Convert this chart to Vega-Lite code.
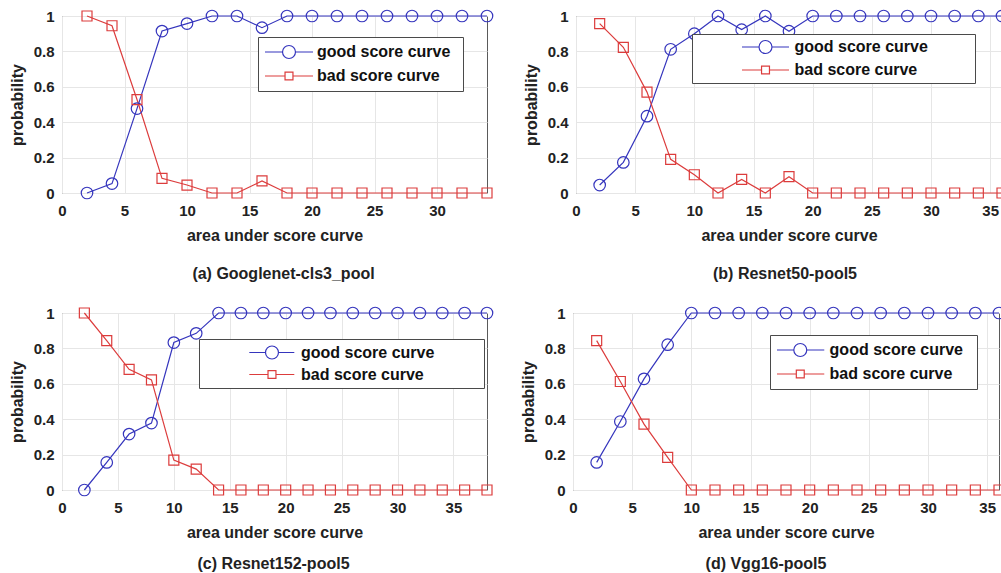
{
  "$schema": "https://vega.github.io/schema/vega-lite/v6.json",
  "padding": {"left": 8, "top": 7, "right": 0, "bottom": 0},
  "background": "white",
  "config": {
    "font": "Liberation Sans",
    "view": {"stroke": "#5a5a5a", "strokeWidth": 1},
    "axis": {
      "labelFont": "Liberation Sans", "labelFontSize": 15, "labelFontWeight": "bold", "labelColor": "#222",
      "titleFont": "Liberation Sans", "titleFontSize": 16, "titleFontWeight": "bold", "titleColor": "#222",
      "gridColor": "#e6e6e6", "domain": false, "ticks": false
    },
    "axisX": {"labelPadding": 10, "titlePadding": 9, "labelFlush": false},
    "axisY": {"labelPadding": 8, "titlePadding": 8},
    "legend": {
      "orient": "none", "labelFont": "Liberation Sans", "labelFontSize": 16, "labelFontWeight": "bold",
      "labelColor": "#111", "strokeColor": "#4a4a4a", "fillColor": "#ffffff",
      "symbolStrokeWidth": 1.2, "labelLimit": 400, "symbolSize": 576,
      "titleOrient": "right", "titleFontSize": 10, "titleColor": "transparent", "titleLimit": 50
    },
    "title": {"font": "Liberation Sans", "fontSize": 16, "fontWeight": "bold", "color": "#222", "orient": "bottom", "frame": "group"}
  },
  "datasets": {
    "a": [
      {"x": 2, "good": 0, "bad": 1}, {"x": 4, "good": 0.053, "bad": 0.945}, {"x": 6, "good": 0.477, "bad": 0.528},
      {"x": 8, "good": 0.915, "bad": 0.083}, {"x": 10, "good": 0.957, "bad": 0.045}, {"x": 12, "good": 1, "bad": 0},
      {"x": 14, "good": 1, "bad": 0}, {"x": 16, "good": 0.934, "bad": 0.068}, {"x": 18, "good": 1, "bad": 0},
      {"x": 20, "good": 1, "bad": 0}, {"x": 22, "good": 1, "bad": 0}, {"x": 24, "good": 1, "bad": 0},
      {"x": 26, "good": 1, "bad": 0}, {"x": 28, "good": 1, "bad": 0}, {"x": 30, "good": 1, "bad": 0},
      {"x": 32, "good": 1, "bad": 0}, {"x": 34, "good": 1, "bad": 0}
    ],
    "b": [
      {"x": 2, "good": 0.045, "bad": 0.957}, {"x": 4, "good": 0.173, "bad": 0.823}, {"x": 6, "good": 0.434, "bad": 0.57},
      {"x": 8, "good": 0.812, "bad": 0.19}, {"x": 10, "good": 0.9, "bad": 0.103}, {"x": 12, "good": 1, "bad": 0},
      {"x": 14, "good": 0.923, "bad": 0.077}, {"x": 16, "good": 1, "bad": 0}, {"x": 18, "good": 0.914, "bad": 0.092},
      {"x": 20, "good": 1, "bad": 0}, {"x": 22, "good": 1, "bad": 0}, {"x": 24, "good": 1, "bad": 0},
      {"x": 26, "good": 1, "bad": 0}, {"x": 28, "good": 1, "bad": 0}, {"x": 30, "good": 1, "bad": 0},
      {"x": 32, "good": 1, "bad": 0}, {"x": 34, "good": 1, "bad": 0}, {"x": 36, "good": 1, "bad": 0}
    ],
    "c": [
      {"x": 2, "good": 0, "bad": 1}, {"x": 4, "good": 0.156, "bad": 0.844}, {"x": 6, "good": 0.316, "bad": 0.682},
      {"x": 8, "good": 0.378, "bad": 0.622}, {"x": 10, "good": 0.833, "bad": 0.169}, {"x": 12, "good": 0.885, "bad": 0.118},
      {"x": 14, "good": 1, "bad": 0}, {"x": 16, "good": 1, "bad": 0}, {"x": 18, "good": 1, "bad": 0},
      {"x": 20, "good": 1, "bad": 0}, {"x": 22, "good": 1, "bad": 0}, {"x": 24, "good": 1, "bad": 0},
      {"x": 26, "good": 1, "bad": 0}, {"x": 28, "good": 1, "bad": 0}, {"x": 30, "good": 1, "bad": 0},
      {"x": 32, "good": 1, "bad": 0}, {"x": 34, "good": 1, "bad": 0}, {"x": 36, "good": 1, "bad": 0},
      {"x": 38, "good": 1, "bad": 0}
    ],
    "d": [
      {"x": 2, "good": 0.156, "bad": 0.844}, {"x": 4, "good": 0.387, "bad": 0.613}, {"x": 6, "good": 0.628, "bad": 0.372},
      {"x": 8, "good": 0.821, "bad": 0.184}, {"x": 10, "good": 1, "bad": 0}, {"x": 12, "good": 1, "bad": 0},
      {"x": 14, "good": 1, "bad": 0}, {"x": 16, "good": 1, "bad": 0}, {"x": 18, "good": 1, "bad": 0},
      {"x": 20, "good": 1, "bad": 0}, {"x": 22, "good": 1, "bad": 0}, {"x": 24, "good": 1, "bad": 0},
      {"x": 26, "good": 1, "bad": 0}, {"x": 28, "good": 1, "bad": 0}, {"x": 30, "good": 1, "bad": 0},
      {"x": 32, "good": 1, "bad": 0}, {"x": 34, "good": 1, "bad": 0}, {"x": 36, "good": 1, "bad": 0}
    ]
  },
  "resolve": {"scale": {"color": "independent"}, "legend": {"color": "independent"}},
  "spacing": 21,
  "vconcat": [
    {
      "spacing": 26,
      "resolve": {"scale": {"color": "independent"}, "legend": {"color": "independent"}},
      "hconcat": [
        {
          "width": 425, "height": 177,
          "data": {"name": "a"},
          "transform": [{"fold": ["good", "bad"], "as": ["s", "p"]}],
          "title": {"text": "(a) Googlenet-cls3_pool", "offset": 23, "dx": 9},
          "encoding": {
            "x": {"field": "x", "type": "quantitative", "scale": {"domain": [0, 34], "nice": false}, "axis": {"values": [0, 5, 10, 15, 20, 25, 30], "title": "area under score curve"}},
            "y": {"field": "p", "type": "quantitative", "scale": {"domain": [0, 1], "nice": false}, "axis": {"values": [0, 0.2, 0.4, 0.6, 0.8, 1], "format": ".1~f", "title": "probability"}},
            "color": {"field": "s", "type": "nominal", "scale": {"domain": ["good", "bad"], "range": ["#3535bd", "#dc3c3c"]},
              "legend": {"title": "\u00a0", "titlePadding": 10, "legendX": 196, "legendY": 21, "padding": 3, "rowPadding": 0, "clipHeight": 24, "labelOffset": 30, "labelExpr": "datum.value + ' score curve'",
                "encode": {"symbols": {"update": {"fill": {"value": "transparent"}, "opacity": {"value": 1},
                  "shape": {"signal": "datum.value === 'good' ? 'M-0.75,0H0.71M1.79,0H3.25M0.71,0A0.54,0.54 0 1,0 1.79,0A0.54,0.54 0 1,0 0.71,0' : 'M-0.75,0H0.92M1.58,0H3.25M0.92,-0.33H1.58V0.33H0.92Z'"}}}}}}
          },
          "layer": [
            {"mark": {"type": "line", "strokeWidth": 1.2}},
            {"transform": [{"filter": "datum.s === 'good'"}], "mark": {"type": "point", "shape": "circle", "size": 133, "filled": false, "strokeWidth": 1.2, "opacity": 1}},
            {"transform": [{"filter": "datum.s === 'bad'"}], "mark": {"type": "point", "shape": "square", "size": 100, "filled": false, "strokeWidth": 1.2, "opacity": 1}}
          ]
        },
        {
          "width": 426, "height": 177,
          "data": {"name": "b"},
          "transform": [{"fold": ["good", "bad"], "as": ["s", "p"]}],
          "title": {"text": "(b) Resnet50-pool5", "offset": 23, "dx": -4},
          "encoding": {
            "x": {"field": "x", "type": "quantitative", "scale": {"domain": [0, 36], "nice": false}, "axis": {"values": [0, 5, 10, 15, 20, 25, 30, 35], "title": "area under score curve"}},
            "y": {"field": "p", "type": "quantitative", "scale": {"domain": [0, 1], "nice": false}, "axis": {"values": [0, 0.2, 0.4, 0.6, 0.8, 1], "format": ".1~f", "title": "probability"}},
            "color": {"field": "s", "type": "nominal", "scale": {"domain": ["good", "bad"], "range": ["#3535bd", "#dc3c3c"]},
              "legend": {"title": "\u00a0", "titlePadding": 46, "legendX": 116, "legendY": 18, "padding": 1.5, "rowPadding": 0, "clipHeight": 23, "labelOffset": 75, "labelExpr": "datum.value + ' score curve'",
                "encode": {"symbols": {"update": {"fill": {"value": "transparent"}, "opacity": {"value": 1},
                  "shape": {"signal": "datum.value === 'good' ? 'M2.958,0H4.377M5.457,0H6.875M4.377,0A0.54,0.54 0 1,0 5.457,0A0.54,0.54 0 1,0 4.377,0' : 'M2.958,0H4.587M5.247,0H6.875M4.587,-0.33H5.247V0.33H4.587Z'"}}}}}}
          },
          "layer": [
            {"mark": {"type": "line", "strokeWidth": 1.2}},
            {"transform": [{"filter": "datum.s === 'good'"}], "mark": {"type": "point", "shape": "circle", "size": 133, "filled": false, "strokeWidth": 1.2, "opacity": 1}},
            {"transform": [{"filter": "datum.s === 'bad'"}], "mark": {"type": "point", "shape": "square", "size": 100, "filled": false, "strokeWidth": 1.2, "opacity": 1}}
          ]
        }
      ]
    },
    {
      "spacing": 23,
      "resolve": {"scale": {"color": "independent"}, "legend": {"color": "independent"}},
      "hconcat": [
        {
          "width": 425, "height": 177,
          "data": {"name": "c"},
          "transform": [{"fold": ["good", "bad"], "as": ["s", "p"]}],
          "title": {"text": "(c) Resnet152-pool5", "offset": 16, "dx": -1},
          "encoding": {
            "x": {"field": "x", "type": "quantitative", "scale": {"domain": [0, 38], "nice": false}, "axis": {"values": [0, 5, 10, 15, 20, 25, 30, 35], "title": "area under score curve"}},
            "y": {"field": "p", "type": "quantitative", "scale": {"domain": [0, 1], "nice": false}, "axis": {"values": [0, 0.2, 0.4, 0.6, 0.8, 1], "format": ".1~f", "title": "probability"}},
            "color": {"field": "s", "type": "nominal", "scale": {"domain": ["good", "bad"], "range": ["#3535bd", "#dc3c3c"]},
              "legend": {"title": "\u00a0", "titlePadding": 47, "legendX": 137, "legendY": 26, "padding": 2.5, "rowPadding": 0, "clipHeight": 22, "labelOffset": 73.5, "labelExpr": "datum.value + ' score curve'",
                "encode": {"symbols": {"update": {"fill": {"value": "transparent"}, "opacity": {"value": 1},
                  "shape": {"signal": "datum.value === 'good' ? 'M2.9,0H4.25M5.33,0H6.65M4.25,0A0.54,0.54 0 1,0 5.33,0A0.54,0.54 0 1,0 4.25,0' : 'M2.9,0H4.46M5.12,0H6.65M4.46,-0.33H5.12V0.33H4.46Z'"}}}}}}
          },
          "layer": [
            {"mark": {"type": "line", "strokeWidth": 1.2}},
            {"transform": [{"filter": "datum.s === 'good'"}], "mark": {"type": "point", "shape": "circle", "size": 133, "filled": false, "strokeWidth": 1.2, "opacity": 1}},
            {"transform": [{"filter": "datum.s === 'bad'"}], "mark": {"type": "point", "shape": "square", "size": 100, "filled": false, "strokeWidth": 1.2, "opacity": 1}}
          ]
        },
        {
          "width": 426, "height": 177,
          "data": {"name": "d"},
          "transform": [{"fold": ["good", "bad"], "as": ["s", "p"]}],
          "title": {"text": "(d) Vgg16-pool5", "offset": 16, "dx": -20},
          "encoding": {
            "x": {"field": "x", "type": "quantitative", "scale": {"domain": [0, 36], "nice": false}, "axis": {"values": [0, 5, 10, 15, 20, 25, 30, 35], "title": "area under score curve"}},
            "y": {"field": "p", "type": "quantitative", "scale": {"domain": [0, 1], "nice": false}, "axis": {"values": [0, 0.2, 0.4, 0.6, 0.8, 1], "format": ".1~f", "title": "probability"}},
            "color": {"field": "s", "type": "nominal", "scale": {"domain": ["good", "bad"], "range": ["#3535bd", "#dc3c3c"]},
              "legend": {"title": "\u00a0", "titlePadding": 11, "legendX": 197, "legendY": 22, "padding": 3, "rowPadding": 0, "clipHeight": 24, "labelOffset": 30.6, "labelExpr": "datum.value + ' score curve'",
                "encode": {"symbols": {"update": {"fill": {"value": "transparent"}, "opacity": {"value": 1},
                  "shape": {"signal": "datum.value === 'good' ? 'M-0.75,0H0.65M1.73,0H3.19M0.65,0A0.54,0.54 0 1,0 1.73,0A0.54,0.54 0 1,0 0.65,0' : 'M-0.75,0H0.86M1.52,0H3.19M0.86,-0.33H1.52V0.33H0.86Z'"}}}}}}
          },
          "layer": [
            {"mark": {"type": "line", "strokeWidth": 1.2}},
            {"transform": [{"filter": "datum.s === 'good'"}], "mark": {"type": "point", "shape": "circle", "size": 133, "filled": false, "strokeWidth": 1.2, "opacity": 1}},
            {"transform": [{"filter": "datum.s === 'bad'"}], "mark": {"type": "point", "shape": "square", "size": 100, "filled": false, "strokeWidth": 1.2, "opacity": 1}}
          ]
        }
      ]
    }
  ]
}
